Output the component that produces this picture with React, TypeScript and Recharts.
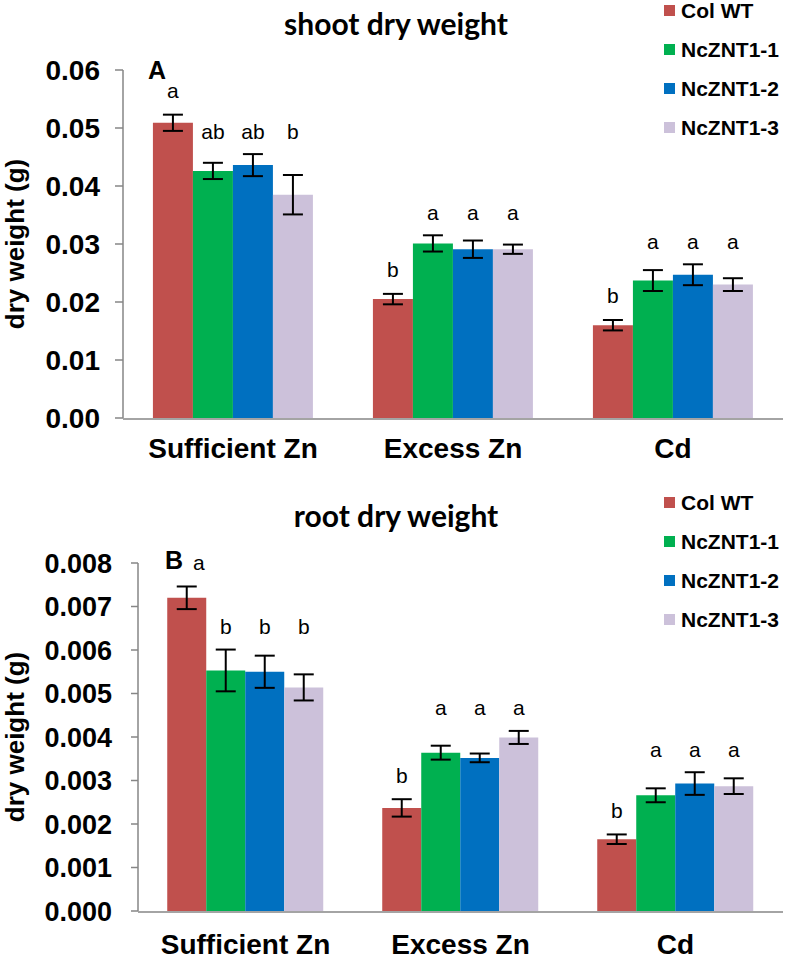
import React from "react";
import { BarChart, Bar, XAxis, YAxis, ErrorBar, LabelList, Legend } from "recharts";

const categories = ["Sufficient Zn", "Excess Zn", "Cd"];
const seriesNames = ["Col WT", "NcZNT1-1", "NcZNT1-2", "NcZNT1-3"];
const COLORS = ["#C0504D", "#00B050", "#0070C0", "#CCC1DA"];

// shoot dry weight (g)
const shootColWT = [0.0509, 0.0205, 0.016];
const shootZNT1 = [0.0426, 0.0301, 0.0237];
const shootZNT2 = [0.0436, 0.0291, 0.0247];
const shootZNT3 = [0.0385, 0.0291, 0.023];
const shootErrColWT = [0.0014, 0.0009, 0.0009];
const shootErrZNT1 = [0.0014, 0.0014, 0.0018];
const shootErrZNT2 = [0.0019, 0.0015, 0.0018];
const shootErrZNT3 = [0.0034, 0.0008, 0.0011];
const shootLetters = [
  ["a", "b", "b"],
  ["ab", "a", "a"],
  ["ab", "a", "a"],
  ["b", "a", "a"],
];
const shootTicks = [0, 0.01, 0.02, 0.03, 0.04, 0.05, 0.06];

// root dry weight (g)
const rootColWT = [0.0072, 0.00237, 0.00165];
const rootZNT1 = [0.00553, 0.00364, 0.00266];
const rootZNT2 = [0.0055, 0.00352, 0.00293];
const rootZNT3 = [0.00514, 0.00399, 0.00287];
const rootErrColWT = [0.00026, 0.0002, 0.00011];
const rootErrZNT1 = [0.00048, 0.00016, 0.00016];
const rootErrZNT2 = [0.00037, 0.0001, 0.00026];
const rootErrZNT3 = [0.0003, 0.00015, 0.00018];
const rootLetters = [
  ["a", "b", "b"],
  ["b", "a", "a"],
  ["b", "a", "a"],
  ["b", "a", "a"],
];
const rootTicks = [0, 0.001, 0.002, 0.003, 0.004, 0.005, 0.006, 0.007, 0.008];

const ARIAL = "'Liberation Sans', Arial, sans-serif";
const AXIS_GRAY = "#868686";

function buildRows(vals: number[][], errs: number[][], letters: string[][]) {
  return categories.map((name, i) => {
    const row: any = { name };
    vals.forEach((v, s) => {
      row["s" + s] = v[i];
      row["e" + s] = errs[s][i];
      row["l" + s] = letters[s][i];
    });
    return row;
  });
}

// significance letters sit above the error bars
const makeLetter = (vals: number[][], errs: number[][], s: number, firstShift: number) => (props: any) => {
  const vb = props.viewBox ?? props;
  const { x, y, width } = vb;
  const height = Math.abs(vb.height);
  const index = props.index;
  const v = vals[s][index];
  const px = height / v;
  let level: number;
  let gap: number;
  if (s === 0) {
    level = v + errs[0][index];
    gap = 24;
  } else {
    level = Math.max(...[1, 2, 3].map((k) => vals[k][index] + errs[k][index]));
    gap = 23;
  }
  const cy = y - (level - v) * px - gap;
  const dx = s === 0 && index === 0 ? firstShift : 0;
  return (
    <text
      x={x + width / 2 + dx}
      y={cy}
      textAnchor="middle"
      dominantBaseline="central"
      fontFamily={ARIAL}
      fontSize={21}
      fill="#000"
    >
      {props.value}
    </text>
  );
};

const LegendBox = ({ payload }: any) => (
  <div style={{ fontFamily: ARIAL, fontWeight: "bold", fontSize: 21, color: "#000" }}>
    {(payload || []).map((p: any) => (
      <div key={p.value} style={{ height: 39, display: "flex", alignItems: "center" }}>
        <span style={{ width: 11, height: 11, background: p.color, marginRight: 6, display: "inline-block" }} />
        {p.value}
      </div>
    ))}
  </div>
);

interface PanelProps {
  vals: number[][];
  errs: number[][];
  letters: string[][];
  ticks: number[];
  decimals: number;
  top: number;
  bottom: number;
  axisWidth: number;
  tickFont: number;
  tickSize: number;
  tickMargin: number;
  xTickMargin: number;
  legendTop: number;
  firstShift: number;
}

const Panel: React.FC<PanelProps> = (p) => {
  const rows = buildRows(p.vals, p.errs, p.letters);
  return (
    <BarChart
      width={792}
      height={477}
      data={rows}
      margin={{ top: p.top, right: 9, bottom: p.bottom, left: 0 }}
      barCategoryGap="13.6%"
      barGap={0}
    >
      <XAxis
        xAxisId="bounds"
        type="number"
        domain={[0, 3]}
        ticks={[0, 1, 2, 3]}
        height={1}
        axisLine={false}
        tick={false}
        tickSize={8}
        tickLine={{ stroke: AXIS_GRAY, strokeWidth: 1.5 }}
      />
      <XAxis
        xAxisId="cat"
        dataKey="name"
        height={1}
        tickLine={false}
        axisLine={{ stroke: AXIS_GRAY, strokeWidth: 1.5 }}
        tickMargin={p.xTickMargin}
        tick={{ fontSize: 28, fontWeight: "bold", fill: "#000", fontFamily: ARIAL }}
      />
      <YAxis
        width={p.axisWidth}
        domain={[0, p.ticks[p.ticks.length - 1]]}
        ticks={p.ticks}
        interval={0}
        tickFormatter={(v: number) => v.toFixed(p.decimals)}
        tickSize={p.tickSize}
        tickMargin={p.tickMargin}
        axisLine={{ stroke: AXIS_GRAY, strokeWidth: 1.5 }}
        tickLine={{ stroke: AXIS_GRAY, strokeWidth: 1.5 }}
        tick={{ fontSize: p.tickFont, fontWeight: "bold", fill: "#000", fontFamily: ARIAL }}
        label={{
          value: "dry weight (g)",
          angle: -90,
          position: "insideLeft",
          offset: 15,
          style: { textAnchor: "middle", fontSize: 26, fontWeight: "bold", fill: "#000", fontFamily: ARIAL },
        }}
      />
      <Legend
        layout="vertical"
        align="center"
        verticalAlign="middle"
        content={<LegendBox />}
        wrapperStyle={{ top: p.legendTop, left: 664, width: 130 }}
      />
      {seriesNames.map((name, s) => (
        <Bar key={name} xAxisId="cat" dataKey={"s" + s} name={name} fill={COLORS[s]} isAnimationActive={false}>
          <ErrorBar dataKey={"e" + s} width={10} strokeWidth={2} stroke="#000" direction="y" isAnimationActive={false} />
          <LabelList dataKey={"l" + s} content={makeLetter(p.vals, p.errs, s, p.firstShift)} />
        </Bar>
      ))}
    </BarChart>
  );
};

const titleStyle: React.CSSProperties = {
  position: "absolute",
  left: 0,
  width: 792,
  textAlign: "center",
  fontFamily: "Lato, 'Open Sans', sans-serif",
  fontWeight: "bold",
  fontSize: 30,
  lineHeight: "30px",
  color: "#000",
};

const panelLetter: React.CSSProperties = {
  position: "absolute",
  fontFamily: ARIAL,
  fontWeight: "bold",
  fontSize: 25,
  lineHeight: "25px",
  color: "#000",
};

export default function App() {
  return (
    <div style={{ position: "relative", width: 792, height: 954, background: "#fff", overflow: "hidden" }}>
      <style>{"body{margin:0}"}</style>
      <div style={{ position: "absolute", top: 0, left: 0 }}>
        <Panel
          vals={[shootColWT, shootZNT1, shootZNT2, shootZNT3]}
          errs={[shootErrColWT, shootErrZNT1, shootErrZNT2, shootErrZNT3]}
          letters={shootLetters}
          ticks={shootTicks}
          decimals={2}
          top={70}
          bottom={57}
          axisWidth={123}
          tickFont={28}
          tickSize={8}
          tickMargin={15}
          xTickMargin={13}
          legendTop={-9}
          firstShift={0}
        />
      </div>
      <div style={{ position: "absolute", top: 477, left: 0 }}>
        <Panel
          vals={[rootColWT, rootZNT1, rootZNT2, rootZNT3]}
          errs={[rootErrColWT, rootErrZNT1, rootErrZNT2, rootErrZNT3]}
          letters={rootLetters}
          ticks={rootTicks}
          decimals={3}
          top={86}
          bottom={41}
          axisWidth={138}
          tickFont={27}
          tickSize={7}
          tickMargin={19}
          xTickMargin={16}
          legendTop={6}
          firstShift={12}
        />
      </div>
      <div style={{ ...titleStyle, top: 8 }}>shoot dry weight</div>
      <div style={{ ...titleStyle, top: 500 }}>root dry weight</div>
      <div style={{ ...panelLetter, left: 148, top: 58 }}>A</div>
      <div style={{ ...panelLetter, left: 165, top: 548 }}>B</div>
    </div>
  );
}
